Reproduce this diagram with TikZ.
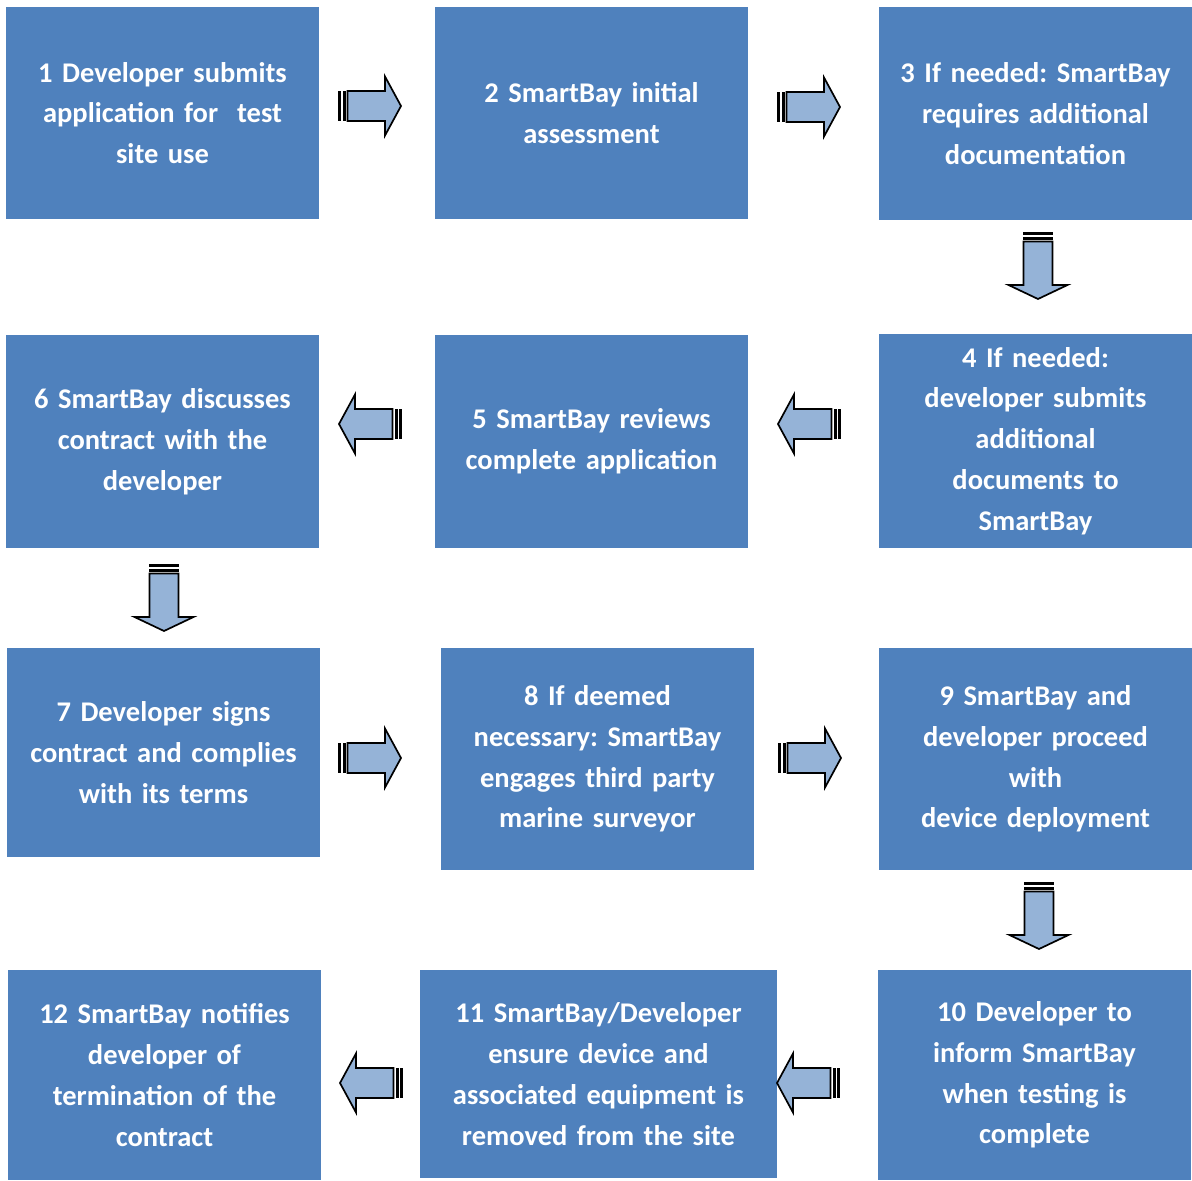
\documentclass[tikz,border=0pt]{standalone}
\usepackage{fontspec}
\setmainfont{Carlito}
\usetikzlibrary{calc}
\definecolor{boxblue}{HTML}{4F81BD}
\definecolor{arrowfill}{HTML}{95B3D7}
\tikzset{
  box/.style={fill=boxblue, draw=none, text=white, inner sep=0pt, align=center,
    font=\fontsize{28.5}{40.8}\selectfont\bfseries\frenchspacing},
  arrowline/.style={draw=black, fill=arrowfill, line width=1.7pt, line join=miter},
  harrow/.pic={
    \fill[black] (0,-15) rectangle (3,15);
    \fill[black] (4.5,-15) rectangle (7.5,15);
    \path[arrowline] (9.5,-15) -- (47,-15) -- (47,-29.5) -- (63,0) -- (47,29.5) -- (47,15) -- (9.5,15) -- cycle;
  },
  varrow/.pic={
    \fill[black] (0,-15) rectangle (3,15);
    \fill[black] (4.5,-15) rectangle (7.5,15);
    \path[arrowline] (9.5,-14.5) -- (53,-14.5) -- (53,-29.5) -- (67,0) -- (53,29.5) -- (53,14.5) -- (9.5,14.5) -- cycle;
  }
}
\begin{document}
\begin{tikzpicture}[x=1pt,y=-1pt]
\useasboundingbox (0,0) rectangle (1192,1181);
\node[box, minimum width=313pt, minimum height=212pt, text width=305pt] (b1) at (162.5,113) {1 Developer submits\\application for\ \ test\\site use};
\node[box, minimum width=313pt, minimum height=212pt, text width=305pt] (b2) at (591.5,113) {2 SmartBay initial\\assessment};
\node[box, minimum width=313pt, minimum height=213pt, text width=305pt] (b3) at (1035.5,113.5) {3 If needed: SmartBay\\requires additional\\documentation};
\node[box, minimum width=313pt, minimum height=214pt, text width=305pt] (b4) at (1035.5,441) {4 If needed:\\developer submits\\additional\\documents to\\SmartBay};
\node[box, minimum width=313pt, minimum height=213pt, text width=305pt] (b5) at (591.5,441.5) {5 SmartBay reviews\\complete application};
\node[box, minimum width=313pt, minimum height=213pt, text width=305pt] (b6) at (162.5,441.5) {6 SmartBay discusses\\contract with the\\developer};
\node[box, minimum width=313pt, minimum height=209pt, text width=305pt] (b7) at (163.5,752.5) {7 Developer signs\\contract and complies\\with its terms};
\node[box, minimum width=313pt, minimum height=222pt, text width=305pt] (b8) at (597.5,759) {8 If deemed\\necessary: SmartBay\\engages third party\\marine surveyor};
\node[box, minimum width=313pt, minimum height=222pt, text width=305pt] (b9) at (1035.5,759) {9 SmartBay and\\developer proceed\\with\\device deployment};
\node[box, minimum width=313pt, minimum height=210pt, text width=305pt] (b10) at (1034.5,1075) {10 Developer to\\inform SmartBay\\when testing is\\complete};
\node[box, minimum width=357pt, minimum height=208pt, text width=349pt] (b11) at (598.5,1074) {11 SmartBay/Developer\\ensure device and\\associated equipment is\\removed from the site};
\node[box, minimum width=313pt, minimum height=210pt, text width=305pt] (b12) at (164.5,1075) {12 SmartBay notifies\\developer of\\termination of the\\contract};
% block arrows between the boxes
\pic at (338,106) {harrow};
\pic at (777,107) {harrow};
\pic[rotate=-90] at (1038,232) {varrow};
\pic[rotate=180] at (841,424) {harrow};
\pic[rotate=180] at (402,424) {harrow};
\pic[rotate=-90] at (164,564) {varrow};
\pic at (338,758) {harrow};
\pic at (778,758) {harrow};
\pic[rotate=-90] at (1039,882) {varrow};
\pic[rotate=180] at (840,1083) {harrow};
\pic[rotate=180] at (403,1083) {harrow};
\end{tikzpicture}
\end{document}
